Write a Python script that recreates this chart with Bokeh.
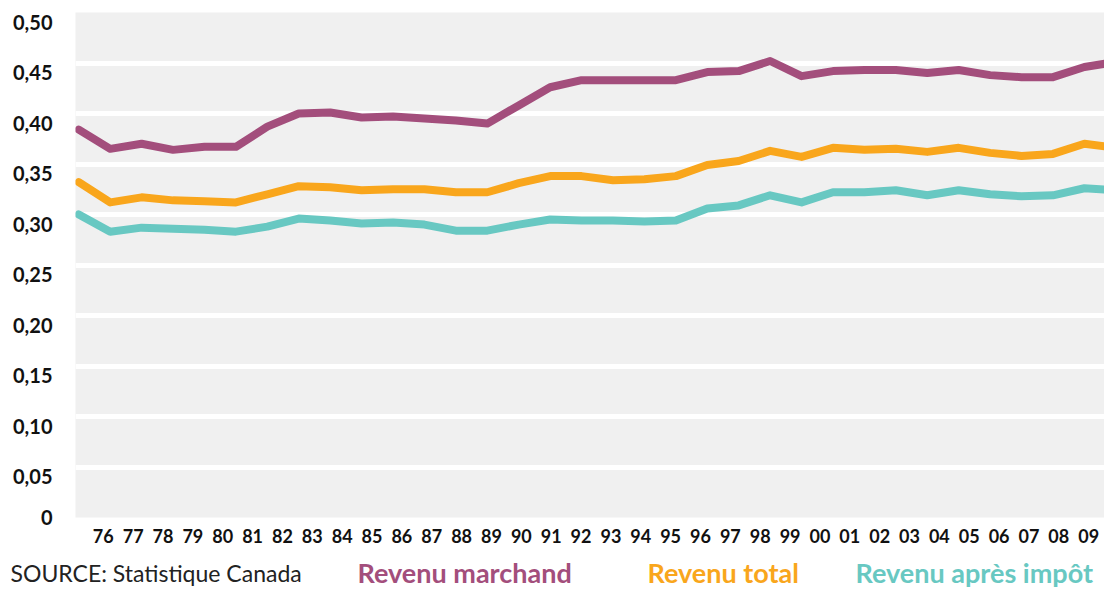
from bokeh.plotting import figure
from bokeh.layouts import column
from bokeh.models import Range1d, LinearAxis, FixedTicker, CustomJSTickFormatter
from bokeh.core.properties import value
from bokeh.embed import file_html
from bokeh.resources import INLINE

years = list(range(1976, 2010))
revenu_marchand = [0.384, 0.365, 0.370, 0.364, 0.367, 0.367, 0.387, 0.400, 0.401, 0.396, 0.397,
                   0.395, 0.393, 0.390, 0.408, 0.426, 0.433, 0.433, 0.433, 0.433, 0.441, 0.442,
                   0.452, 0.437, 0.442, 0.443, 0.443, 0.440, 0.443, 0.438, 0.436, 0.436, 0.446, 0.451]
revenu_total = [0.332, 0.312, 0.317, 0.314, 0.313, 0.312, 0.320, 0.328, 0.327, 0.324, 0.325,
                0.325, 0.322, 0.322, 0.331, 0.338, 0.338, 0.334, 0.335, 0.338, 0.349, 0.353,
                0.363, 0.357, 0.366, 0.364, 0.365, 0.362, 0.366, 0.361, 0.358, 0.360, 0.370, 0.366]
revenu_apres_impot = [0.300, 0.283, 0.287, 0.286, 0.285, 0.283, 0.288, 0.296, 0.294, 0.291, 0.292,
                      0.290, 0.284, 0.284, 0.290, 0.295, 0.294, 0.294, 0.293, 0.294, 0.306, 0.309,
                      0.319, 0.312, 0.322, 0.322, 0.324, 0.319, 0.324, 0.320, 0.318, 0.319, 0.326, 0.324]
y_ticks = [0, 0.05, 0.10, 0.15, 0.20, 0.25, 0.30, 0.35, 0.40, 0.45, 0.50]
series_names = ["Revenu marchand", "Revenu total", "Revenu après impôt"]
colors = ["#A34E7C", "#F9A61C", "#68C8C2"]
source_text = "SOURCE: Statistique Canada"

W = 1104
p = figure(width=W, height=551, output_backend="svg", toolbar_location=None,
           x_range=Range1d(1975.896, 2008.64), y_range=Range1d(0, 0.5),
           min_border_left=75, min_border_right=0, min_border_top=12, min_border_bottom=34)
p.frame_align = False
p.background_fill_color = "#F0F0F0"
p.border_fill_color = "white"
p.outline_line_color = None
p.xgrid.grid_line_color = None
p.ygrid.grid_line_color = "white"
p.ygrid.grid_line_width = 5
p.ygrid.ticker = FixedTicker(ticks=y_ticks)
p.xaxis.visible = False
p.yaxis.visible = False

for vals, c in zip([revenu_marchand, revenu_total, revenu_apres_impot], colors):
    p.line(years, vals, line_color=c, line_width=8, line_join="round", line_cap="round")

# y labels: own axis, shifted ~10px below each gridline
shift = 0.0099
p.extra_y_ranges = {"ylab": Range1d(shift, 0.5 + shift)}
ylab_ticks = [shift] + y_ticks[1:]
ya = LinearAxis(y_range_name="ylab", ticker=FixedTicker(ticks=ylab_ticks),
                formatter=CustomJSTickFormatter(
                    code='return tick < 0.025 ? "0" : tick.toFixed(2).replace(".", ",");'))
ya.axis_line_color = None
ya.major_tick_line_color = None
ya.minor_tick_line_color = None
ya.major_tick_in = 0
ya.major_tick_out = 0
ya.major_label_standoff = 23
ya.major_label_text_font = "Lato"
ya.major_label_text_font_style = "bold"
ya.major_label_text_font_size = "20px"
ya.major_label_text_color = "#111111"
p.add_layout(ya, "left")

# x labels axis (own range, evenly spaced labels)
p.extra_x_ranges = {"lab": Range1d(1975.07, 2009.53)}
xa = LinearAxis(x_range_name="lab", ticker=FixedTicker(ticks=years),
                formatter=CustomJSTickFormatter(code='return String(tick % 100).padStart(2, "0");'))
xa.axis_line_color = None
xa.major_tick_line_color = None
xa.minor_tick_line_color = None
xa.major_tick_in = 0
xa.major_tick_out = 0
xa.major_label_standoff = 11
xa.major_label_text_font = "Lato"
xa.major_label_text_font_style = "bold"
xa.major_label_text_font_size = "18px"
xa.major_label_text_color = "#111111"
p.add_layout(xa, "below")

# bottom legend strip
LH = 39
q = figure(width=W, height=LH, output_backend="svg", toolbar_location=None,
           x_range=Range1d(0, W), y_range=Range1d(0, LH),
           min_border_left=0, min_border_right=0, min_border_top=0, min_border_bottom=0)
q.frame_align = False
q.xaxis.visible = False
q.yaxis.visible = False
q.xgrid.visible = False
q.ygrid.visible = False
q.outline_line_color = None
q.background_fill_color = "white"
q.border_fill_color = "white"
base = 18
q.text(x=[10], y=[base], text=[source_text], text_font=value("Lato"), text_font_size="23px",
       text_color="#222222", text_baseline="alphabetic")
q.text(x=[357, 647, 855], y=[base] * 3, text=series_names, text_font=value("Lato"),
       text_font_style="bold", text_font_size="27px", text_color=colors,
       text_baseline="alphabetic")

layout = column(p, q, spacing=0)
open("out.html", "w").write(file_html(layout, INLINE))
